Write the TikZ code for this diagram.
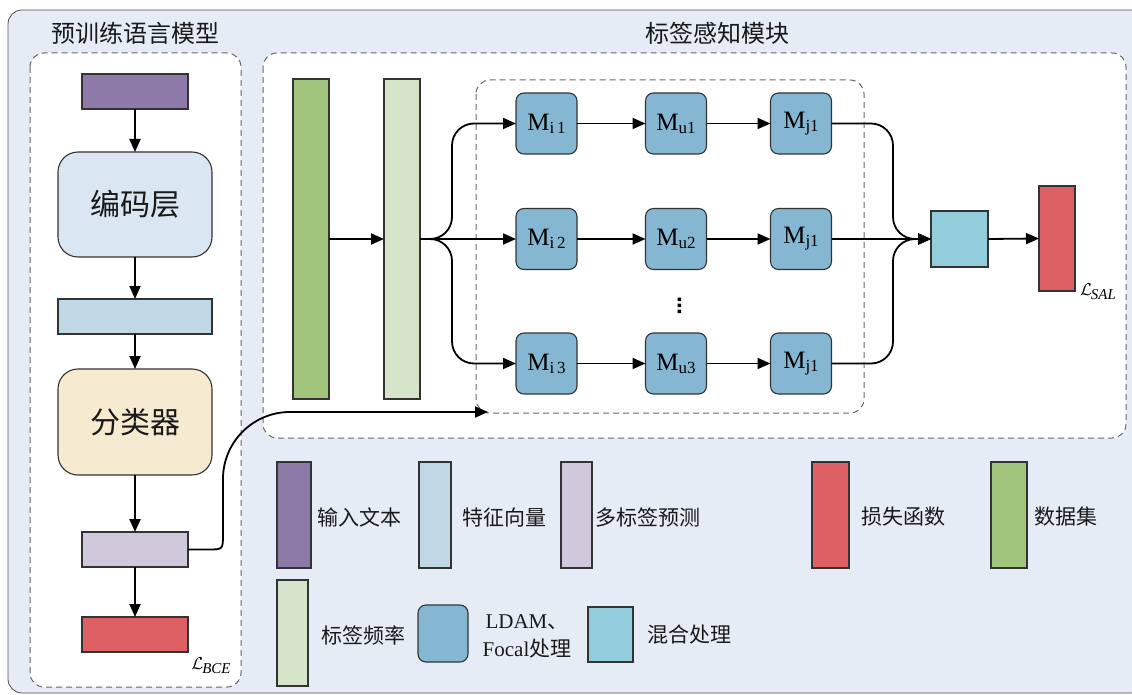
\documentclass[tikz,border=0pt]{standalone}
\usepackage{fontspec}
\setmainfont{Liberation Serif}
\newfontfamily\cjk{Noto Sans CJK SC}
\usetikzlibrary{arrows.meta,calc}
\definecolor{bgc}{HTML}{E6ECF6}
\definecolor{purp}{HTML}{8E7AA9}
\definecolor{encc}{HTML}{DAE6F2}
\definecolor{featc}{HTML}{C0D7E6}
\definecolor{beige}{HTML}{F6EBD0}
\definecolor{lav}{HTML}{CFC9DB}
\definecolor{redc}{HTML}{DC6064}
\definecolor{greenc}{HTML}{A0C47C}
\definecolor{lgreen}{HTML}{D6E4CA}
\definecolor{mblue}{HTML}{86B7D2}
\definecolor{cyanc}{HTML}{93CDDC}
\newcommand\Mlab[1]{M\raisebox{-3pt}{\fontsize{17}{17}\selectfont #1}}
\newcommand\Llab[1]{{\fontsize{19}{20}\selectfont$\mathcal{L}$}\kern-1pt\raisebox{-4pt}{\fontsize{15}{15}\selectfont\textit{#1}}}
\begin{document}
\begin{tikzpicture}[x=1pt,y=-1pt,
  rect/.style={draw=black!80,line width=1.1pt,inner sep=0pt,outer sep=0pt},
  mbox/.style={rect,fill=mblue,rounded corners=8pt,minimum width=61pt,minimum height=61pt,font=\fontsize{25}{25}\selectfont},
  arr/.style={-{Triangle[length=13pt,width=11pt]},line width=1.8pt},
  dbox/.style={draw=black!60,dash pattern=on 6pt off 4pt,line width=1pt,rounded corners=14pt},
  cjklab/.style={font=\cjk\fontsize{21}{25}\selectfont,text=black!90,anchor=west,inner sep=0pt},
  title/.style={font=\cjk\fontsize{24}{28}\selectfont,text=black!90,inner sep=0pt},
  big/.style={font=\cjk\fontsize{30}{34}\selectfont,text=black!90}]
\useasboundingbox (0,0) rectangle (1132,695);
% background
\draw[black!70,line width=0.8pt,fill=bgc,rounded corners=14pt] (8,10) rectangle (1145,693);
\draw[dbox,fill=white] (30,53) rectangle (241,687);
\draw[dbox,fill=white] (263,53) rectangle (1126,438);
\draw[dbox] (476,80) rectangle (864,413);
% titles
\node[title] (t1) at (135,33) {预训练语言模型};
\node[title] (t2) at (717,33) {标签感知模块};
% left column
\node[rect,fill=purp,minimum width=106pt,minimum height=35pt] (in) at (135,91.5) {};
\node[rect,fill=encc,rounded corners=20pt,minimum width=154pt,minimum height=105pt,big] (enc) at (135,204.5) {编码层};
\node[rect,fill=featc,minimum width=154pt,minimum height=35pt] (feat) at (135,316.5) {};
\node[rect,fill=beige,rounded corners=20pt,minimum width=154pt,minimum height=106pt,big] (cls) at (135,422) {分类器};
\node[rect,fill=lav,minimum width=106pt,minimum height=35pt] (pred) at (135,549.5) {};
\node[rect,fill=redc,minimum width=106pt,minimum height=35pt] (lossL) at (135,634.5) {};
\node[inner sep=0pt] (lbce) at (211,666) {\Llab{BCE}};
\draw[arr] (in) -- (enc);
\draw[arr] (enc) -- (feat);
\draw[arr] (feat) -- (cls);
\draw[arr] (cls) -- (pred);
\draw[arr] (pred) -- (lossL);
\coordinate (tgt) at (488,412);
\draw[arr] (pred.east) -- (208,549.5) .. controls (223,549.5) .. (223,534) -- (223,479) .. controls (223,442) and (253,412) .. (290,412) -- (tgt);
% right section
\node[rect,fill=greenc,minimum width=36pt,minimum height=320pt] (data) at (311,239) {};
\node[rect,fill=lgreen,minimum width=36pt,minimum height=320pt] (freq) at (402,239) {};
\draw[arr] (data.east) -- (freq.west);
\node[mbox] (mi1) at (546.5,123.5) {\Mlab{i\,1}};
\node[mbox] (mu1) at (676,123.5) {\Mlab{u1}};
\node[mbox] (mj1) at (801,123.5) {\Mlab{j1}};
\node[mbox] (mi2) at (546.5,239) {\Mlab{i\,2}};
\node[mbox] (mu2) at (676,239) {\Mlab{u2}};
\node[mbox] (mj2) at (801,239) {\Mlab{j1}};
\node[mbox] (mi3) at (546.5,363.5) {\Mlab{i\,3}};
\node[mbox] (mu3) at (676,363.5) {\Mlab{u3}};
\node[mbox] (mj3) at (801,363.5) {\Mlab{j1}};
\fill (677.5,297.5) rectangle ++(3.5,3.5) (677.5,303.5) rectangle ++(3.5,3.5) (677.5,309.5) rectangle ++(3.5,3.5);
\draw[arr,rounded corners=22pt] (freq.east) -- (452,239) -- (452,123.5) -- (mi1.west);
\draw[arr] (freq.east) -- (mi2.west);
\draw[arr,rounded corners=22pt] (freq.east) -- (452,239) -- (452,363.5) -- (mi3.west);
\foreach \r in {1,2,3}{
  \draw[arr] (mi\r) -- (mu\r);
  \draw[arr] (mu\r) -- (mj\r);
}
\node[rect,fill=cyanc,minimum width=57pt,minimum height=56pt] (mix) at (959.5,239) {};
\node[rect,fill=redc,minimum width=36pt,minimum height=105pt] (lossR) at (1057,238.5) {};
\node[inner sep=0pt] (lsal) at (1098,292) {\Llab{SAL}};
\draw[arr,rounded corners=22pt] (mj1.east) -- (893,123.5) -- (893,239) -- (mix.west);
\draw[arr] (mj2.east) -- (mix.west);
\draw[arr,rounded corners=22pt] (mj3.east) -- (893,363.5) -- (893,239) -- (mix.west);
\draw[arr] (mix.east) -- (lossR.west);
% legend
\node[rect,fill=purp,minimum width=34pt,minimum height=106pt] (lg1) at (294,515) {};
\node[cjklab] (lg1t) at (317,517) {输入文本};
\node[rect,fill=featc,minimum width=32pt,minimum height=106pt] (lg2) at (435,515) {};
\node[cjklab] (lg2t) at (462,517) {特征向量};
\node[rect,fill=lav,minimum width=31pt,minimum height=106pt] (lg3) at (576.5,515) {};
\node[cjklab] (lg3t) at (595,517) {多标签预测};
\node[rect,fill=redc,minimum width=37pt,minimum height=106pt] (lg4) at (830.5,515) {};
\node[cjklab] (lg4t) at (861,517) {损失函数};
\node[rect,fill=greenc,minimum width=36pt,minimum height=106pt] (lg5) at (1009,515) {};
\node[cjklab] (lg5t) at (1034,517) {数据集};
\node[rect,fill=lgreen,minimum width=31pt,minimum height=106pt] (lg6) at (292.5,633) {};
\node[cjklab] (lg6t) at (321,635) {标签频率};
\node[rect,fill=mblue,rounded corners=8pt,minimum width=50pt,minimum height=57pt] (lg7) at (443,633.5) {};
\node[align=center,font=\fontsize{21}{28}\selectfont,text=black!90,inner sep=0pt] (lg7t) at (527,636) {LDAM{\cjk 、}\\Focal{\cjk 处理}};
\node[rect,fill=cyanc,minimum width=45pt,minimum height=55pt] (lg8) at (610.5,634.5) {};
\node[cjklab] (lg8t) at (647,635) {混合处理};
\end{tikzpicture}
\end{document}
